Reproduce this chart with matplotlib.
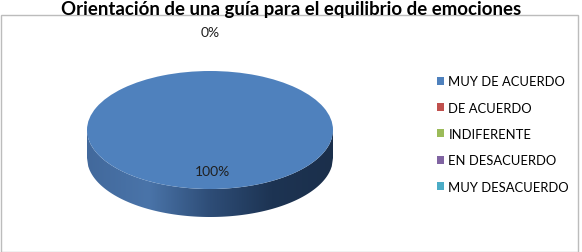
import matplotlib
matplotlib.use("Agg")
import matplotlib.pyplot as plt
import numpy as np
from matplotlib.patches import Rectangle, Polygon
from matplotlib.colors import LinearSegmentedColormap

title = "Orientación de una guía para el equilibrio de emociones"
categories = ["MUY DE ACUERDO", "DE ACUERDO", "INDIFERENTE", "EN DESACUERDO", "MUY DESACUERDO"]
values = [100, 0, 0, 0, 0]
colors = ["#4f81bd", "#c0504d", "#9bbb59", "#8064a2", "#4bacc6"]

plt.rcParams['font.family'] = ['Lato', 'DejaVu Sans']

W, H = 582, 253
fig = plt.figure(figsize=(W / 100, H / 100), dpi=100)

# chart frame
fig.patches.append(Rectangle((0.5 / W, 0), 577 / W, (H - 16) / H, transform=fig.transFigure,
                             fill=False, edgecolor="#bcbcbc", linewidth=1))
fig.text(291 / W, 1 - 9 / H, title, ha='center', va='center', fontsize=13.4, fontweight='bold')

# pie axes (ellipse from aspect='auto')
a_px, b_px, depth_px = 123, 59, 28
cx, cy_top = 210, 131
d = depth_px / b_px
ax = fig.add_axes([(cx - a_px) / W, (H - (cy_top + b_px + depth_px)) / H,
                   2 * a_px / W, (2 * b_px + depth_px) / H])
wedges, _ = ax.pie(values, colors=colors, radius=1, startangle=90,
                   wedgeprops=dict(linewidth=0))
ax.set_aspect('auto')
ax.set_xlim(-1, 1)
ax.set_ylim(-1 - d, 1)
ax.axis('off')

# 3D side with gradient
xs = np.linspace(-1, 1, 200)
top_edge = -np.sqrt(1 - xs ** 2)
verts = np.concatenate([np.column_stack([xs, top_edge]),
                        np.column_stack([xs[::-1], top_edge[::-1] - d])])
side = Polygon(verts, closed=True, facecolor='none', edgecolor='none')
ax.add_patch(side)
cmap = LinearSegmentedColormap.from_list("side", ["#42699c", "#4a74a9", "#2e4d77", "#1d3453", "#1b2f4b"])
grad = np.linspace(0, 1, 256).reshape(1, -1)
im = ax.imshow(grad, cmap=cmap, extent=[-1, 1, -1 - d, 0], aspect='auto', zorder=0)
im.set_clip_path(side)
for w in wedges:
    w.set_zorder(2)

# percent labels
total = sum(values)
pcts = [f"{v / total * 100:.0f}%" for v in values]
fig.text(212 / W, 1 - 172 / H, pcts[0], ha='center', va='center', fontsize=10, color='#1f1f1f', zorder=5)
fig.text(210 / W, 1 - 33 / H, pcts[1], ha='center', va='center', fontsize=10, color='#1f1f1f')

leg = fig.legend(wedges, categories, loc='upper left', bbox_to_anchor=(432 / W, 1 - 71 / H),
                 frameon=False, fontsize=9.4, handlelength=0.55, handleheight=0.55,
                 handletextpad=0.3, labelspacing=1.1, borderaxespad=0)

fig.savefig("out.png", dpi=100)
